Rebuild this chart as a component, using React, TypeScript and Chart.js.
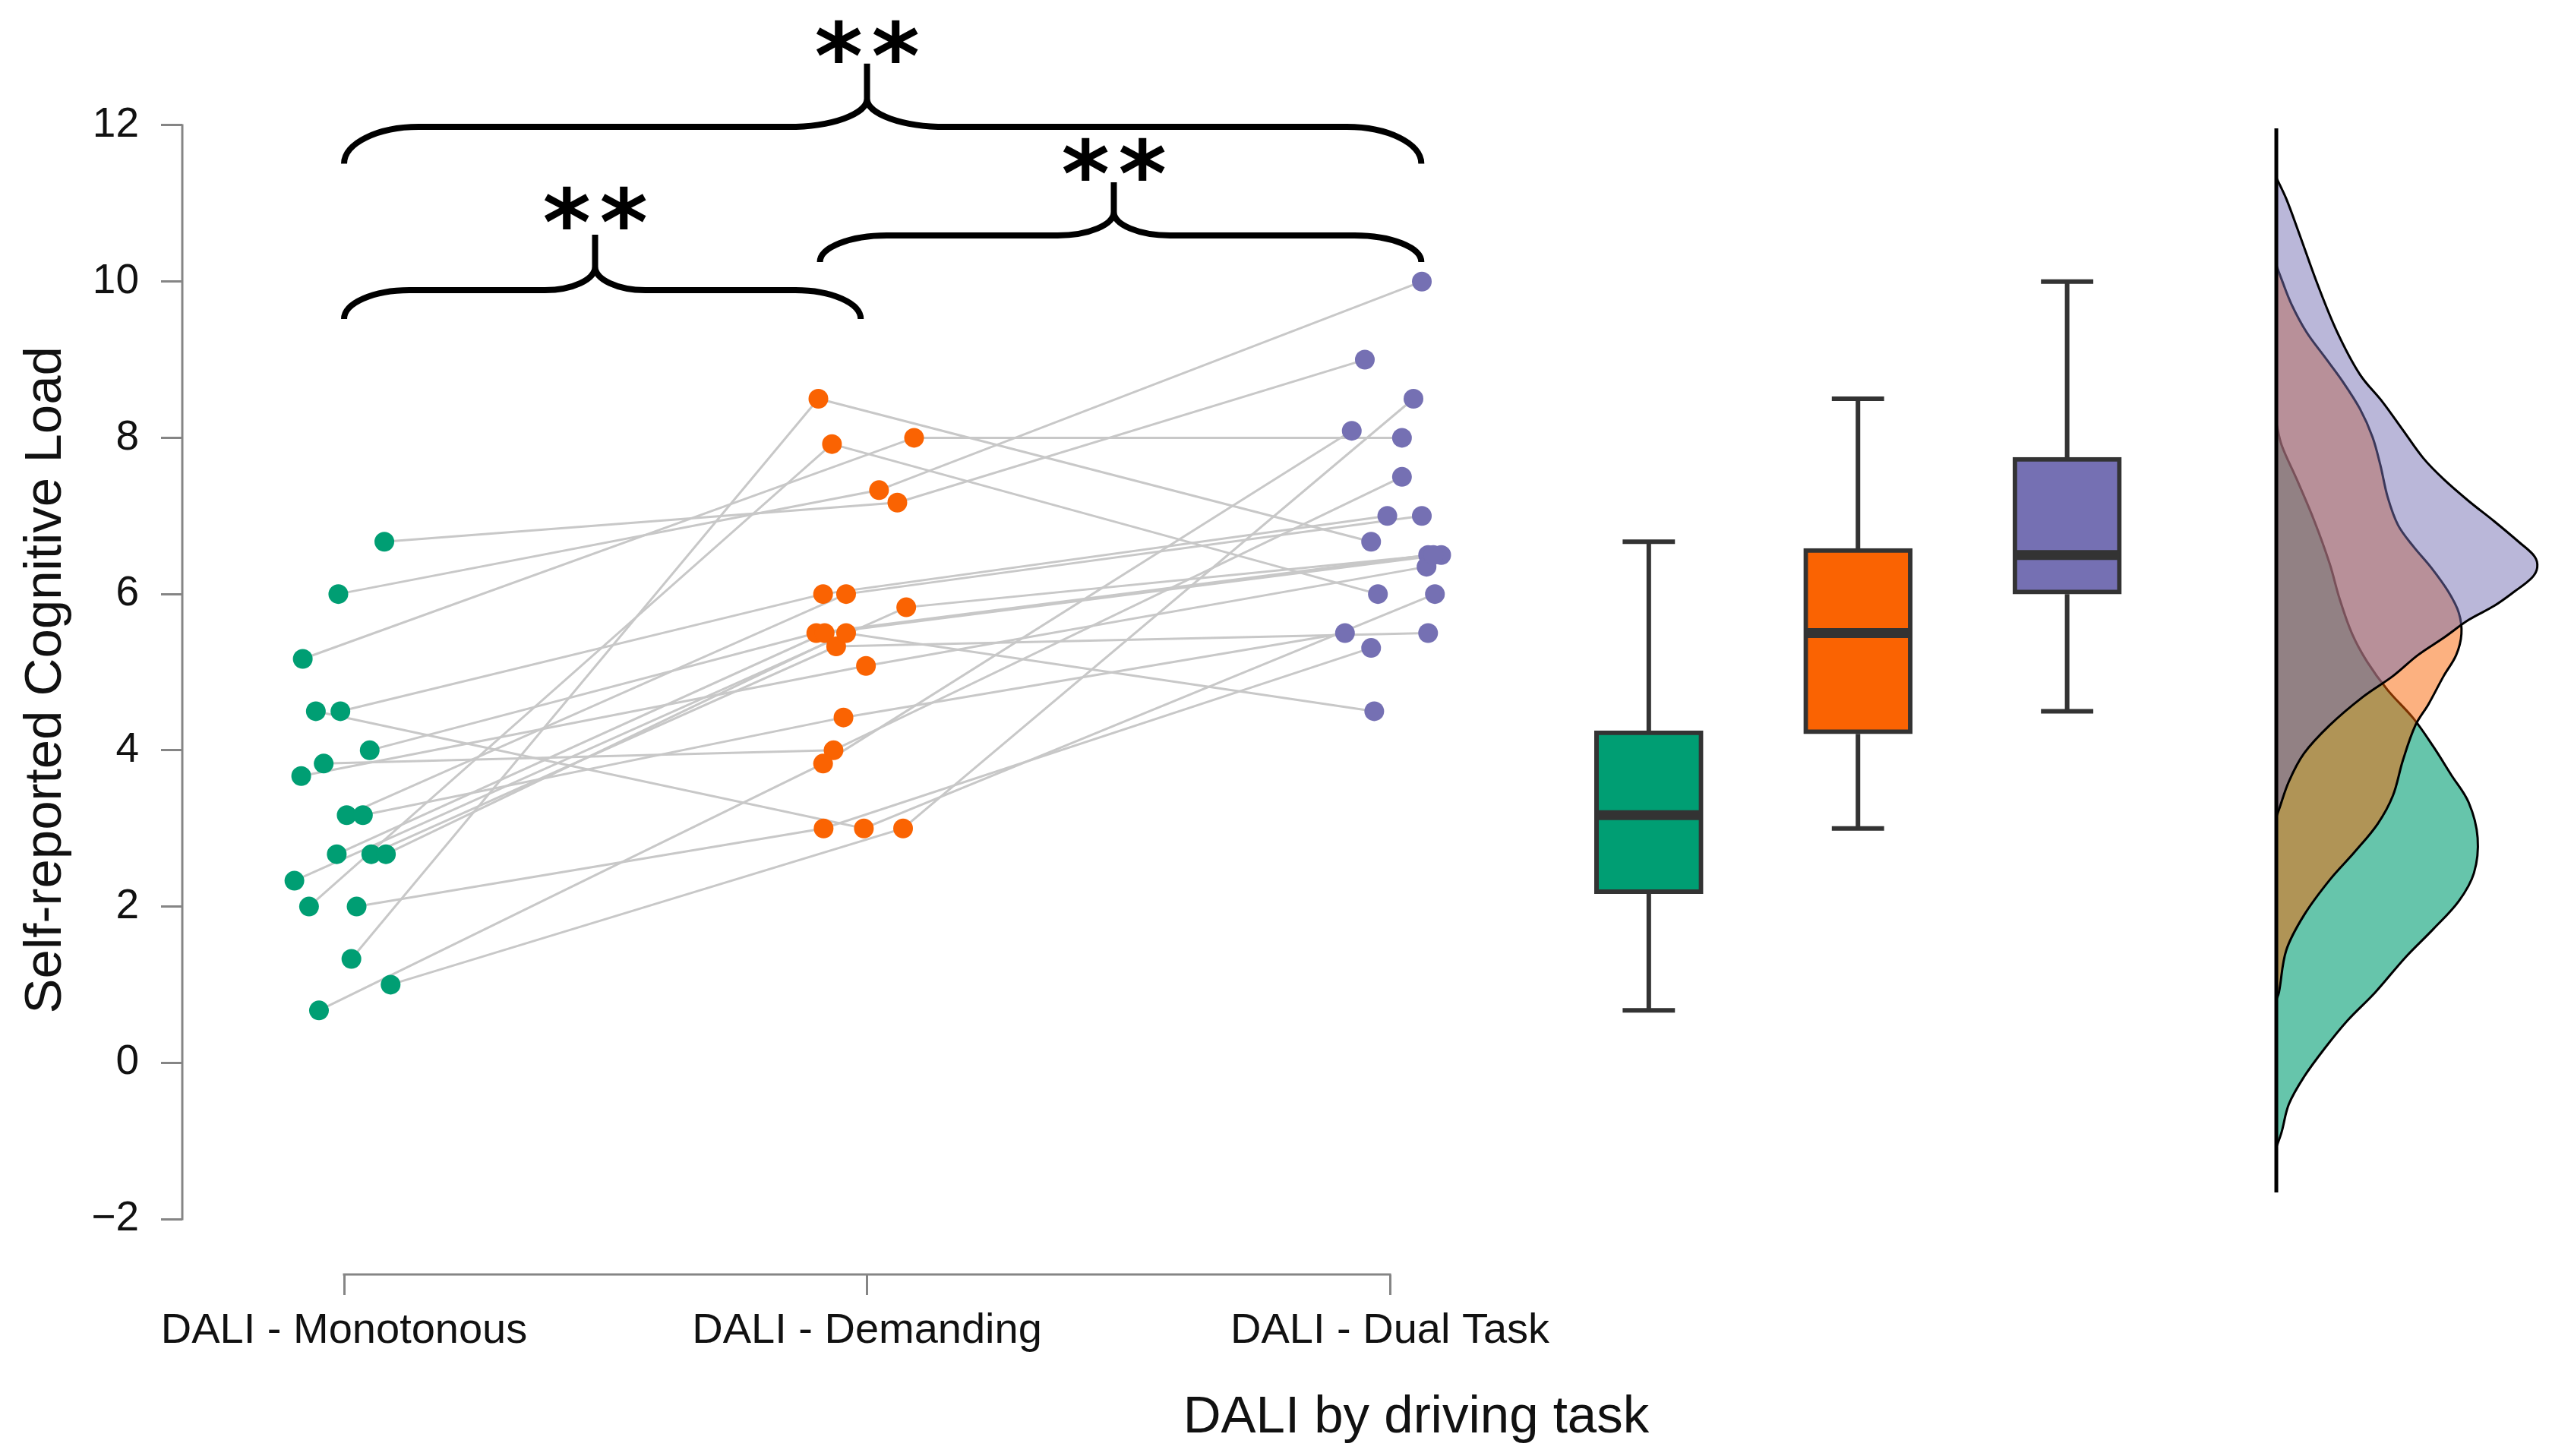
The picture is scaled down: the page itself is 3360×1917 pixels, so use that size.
import React, { useEffect, useRef } from 'react';
import { Chart, registerables } from 'chart.js';

Chart.register(...registerables);

// ---------------- data ----------------
const CATEGORIES = ['DALI - Monotonous', 'DALI - Demanding', 'DALI - Dual Task'];
const Y_TICKS = [-2, 0, 2, 4, 6, 8, 10, 12];

// one entry per participant (same order in the three arrays)
const MONOTONOUS = [6.67, 6.0, 5.17, 4.5, 4.5, 4.0, 3.83, 3.67, 3.17, 3.17, 2.67, 2.67, 2.67, 2.33, 2.0, 2.0, 1.33, 1.0, 0.67];
const DEMANDING = [7.17, 7.33, 8.0, 3.0, 6.0, 5.5, 4.0, 5.08, 6.0, 4.42, 5.5, 5.33, 5.5, 5.83, 7.92, 3.0, 8.5, 3.0, 3.83];
const DUAL_TASK = [9.0, 10.0, 8.0, 6.0, 7.0, 6.5, 7.5, 6.35, 7.0, 5.5, 6.5, 5.5, 4.5, 6.5, 6.0, 5.31, 6.67, 8.5, 8.09];

// horizontal jitter of each point (category units)
const JITTER_MONOTONOUS = [0.077, -0.011, -0.079, -0.054, -0.007, 0.049, -0.039, -0.082, 0.005, 0.036, -0.014, 0.052, 0.08, -0.095, -0.067, 0.024, 0.014, 0.089, -0.048];
const JITTER_DEMANDING = [0.058, 0.023, 0.09, -0.006, -0.084, -0.097, -0.064, -0.002, -0.04, -0.045, -0.081, -0.059, -0.04, 0.075, -0.067, -0.083, -0.093, 0.069, -0.084];
const JITTER_DUAL_TASK = [-0.048, 0.061, 0.023, 0.086, -0.005, 0.073, 0.023, 0.07, 0.061, -0.086, 0.098, 0.073, -0.03, 0.083, -0.023, -0.036, -0.036, 0.045, -0.073];

// density curves: level (y) and width (x units)
const DENSITY_LEVELS_MONOTONOUS = [8.19, 7.91, 7.47, 6.93, 6.39, 5.94, 5.49, 5.13, 4.77, 4.41, 4.05, 3.69, 3.33, 2.88, 2.43, 2.07, 1.71, 1.35, 0.9, 0.54, 0.18, -0.18, -0.53, -0.89, -1.08];
const DENSITY_WIDTHS_MONOTONOUS = [0, 0.01, 0.039, 0.073, 0.102, 0.121, 0.145, 0.174, 0.213, 0.262, 0.3, 0.334, 0.368, 0.385, 0.378, 0.349, 0.3, 0.247, 0.189, 0.136, 0.092, 0.053, 0.024, 0.01, 0];
const DENSITY_LEVELS_DEMANDING = [10.21, 10.03, 9.71, 9.35, 9.04, 8.73, 8.37, 8.01, 7.65, 7.24, 6.88, 6.61, 6.34, 6.03, 5.76, 5.49, 5.22, 4.95, 4.59, 4.32, 3.87, 3.42, 3.06, 2.7, 2.34, 1.89, 1.44, 0.9, 0.81];
const DENSITY_WIDTHS_DEMANDING = [0, 0.01, 0.029, 0.058, 0.092, 0.126, 0.16, 0.184, 0.199, 0.213, 0.233, 0.262, 0.296, 0.329, 0.349, 0.354, 0.344, 0.32, 0.291, 0.266, 0.242, 0.223, 0.194, 0.15, 0.102, 0.053, 0.019, 0.005, 0];
const DENSITY_LEVELS_DUAL_TASK = [11.33, 11.06, 10.61, 9.98, 9.36, 8.81, 8.46, 8.1, 7.74, 7.47, 7.19, 6.93, 6.66, 6.48, 6.34, 6.21, 6.03, 5.85, 5.67, 5.44, 5.22, 4.95, 4.68, 4.32, 3.96, 3.6, 3.24, 3.15];
const DENSITY_WIDTHS_DUAL_TASK = [0, 0.019, 0.044, 0.078, 0.116, 0.16, 0.203, 0.242, 0.281, 0.32, 0.368, 0.417, 0.465, 0.494, 0.499, 0.489, 0.455, 0.417, 0.368, 0.32, 0.271, 0.223, 0.165, 0.102, 0.053, 0.024, 0.005, 0];

const SIGNIFICANCE = ['**', '**', '**'];

// ---------------- layout / style ----------------
const W = 3360;
const H = 1917;
const COLORS = ['#009E73', '#FA6302', '#7570B3'];
const FILLS = ['rgba(0,158,115,0.6)', 'rgba(250,99,2,0.5)', 'rgba(117,112,179,0.5)'];
const BOX_LINE = '#333333';
const AXIS_COLOR = '#858585';
const TEXT_COLOR = '#111111';
const FONT = "'Liberation Sans', Arial, Helvetica, sans-serif";
const BOX_X = [2.495, 2.895, 3.295];
const BOX_HALF = 0.1;
const CAP_HALF = 0.05;
const DENSITY_BASE = 3.695;
const DENSITY_SPAN = [11.96, -1.66];
const X_RANGE = [-0.3094, 4.2222];
const Y_RANGE = [-2.7097, 13.604];
// significance braces: ends, bar, tip (data units) and curl sizes (px)
const BRACES = [
  { from: 0, to: 0.988, tip: 0.48, end: 9.52, bar: 9.89, top: 10.6, curl: 86, mid: 66, midH: 31, gap: 7 },
  { from: 0.91, to: 2.06, tip: 1.472, end: 10.25, bar: 10.59, top: 11.27, curl: 88, mid: 74, midH: 31, gap: 2 },
  { from: 0, to: 2.06, tip: 1.0, end: 11.51, bar: 11.98, top: 12.79, curl: 98, mid: 104, midH: 37, gap: 1 },
];

function quantile(sorted: number[], p: number) {
  const h = (sorted.length - 1) * p;
  const lo = Math.floor(h);
  const hi = Math.ceil(h);
  return sorted[lo] + (h - lo) * (sorted[hi] - sorted[lo]);
}

function boxStats(values: number[]) {
  const s = [...values].sort((a, b) => a - b);
  const q1 = quantile(s, 0.25);
  const med = quantile(s, 0.5);
  const q3 = quantile(s, 0.75);
  const iqr = q3 - q1;
  const lo = s.find((v) => v >= q1 - 1.5 * iqr) as number;
  const hi = [...s].reverse().find((v) => v <= q3 + 1.5 * iqr) as number;
  return { q1, med, q3, lo, hi };
}

const annotationPlugin = {
  id: 'raincloudAnnotations',
  afterDraw(chart: any) {
    const { ctx, chartArea } = chart;
    const x = chart.scales.x;
    const y = chart.scales.y;
    ctx.save();

    // partial axis lines (R base-graphics style)
    ctx.strokeStyle = AXIS_COLOR;
    ctx.lineWidth = 3;
    ctx.lineCap = 'butt';
    ctx.beginPath();
    ctx.moveTo(chartArea.left, y.getPixelForValue(Y_TICKS[0]) + 1.5);
    ctx.lineTo(chartArea.left, y.getPixelForValue(Y_TICKS[Y_TICKS.length - 1]) - 1.5);
    ctx.moveTo(x.getPixelForValue(0) - 1.5, chartArea.bottom);
    ctx.lineTo(x.getPixelForValue(CATEGORIES.length - 1) + 1.5, chartArea.bottom);
    ctx.stroke();

    // braces
    ctx.strokeStyle = '#000000';
    ctx.lineWidth = 8;
    const k = 0.55;
    BRACES.forEach((b) => {
      const xl = x.getPixelForValue(b.from);
      const xr = x.getPixelForValue(b.to);
      const xm = x.getPixelForValue(b.tip);
      const ye = y.getPixelForValue(b.end);
      const yb = y.getPixelForValue(b.bar);
      const yt = y.getPixelForValue(b.top);
      const h = ye - yb;
      ctx.beginPath();
      ctx.moveTo(xl, ye);
      ctx.bezierCurveTo(xl, ye - k * h, xl + b.curl * (1 - k), yb, xl + b.curl, yb);
      ctx.lineTo(xm - b.mid, yb);
      ctx.bezierCurveTo(xm - b.mid * (1 - k), yb, xm, yb - b.midH * (1 - k), xm, yb - b.midH);
      ctx.lineTo(xm, yt);
      ctx.moveTo(xm, yb - b.midH);
      ctx.bezierCurveTo(xm, yb - b.midH * (1 - k), xm + b.mid * (1 - k), yb, xm + b.mid, yb);
      ctx.lineTo(xr - b.curl, yb);
      ctx.bezierCurveTo(xr - b.curl * (1 - k), yb, xr, ye - k * h, xr, ye);
      ctx.stroke();
    });

    // significance stars
    ctx.fillStyle = '#000000';
    ctx.textAlign = 'left';
    ctx.textBaseline = 'alphabetic';
    ctx.font = "bold 100px 'DejaVu Sans'";
    const m0 = ctx.measureText('*');
    const h0 = m0.actualBoundingBoxAscent + m0.actualBoundingBoxDescent;
    const size = (100 * 57) / h0;
    ctx.font = `bold ${size}px 'DejaVu Sans'`;
    const m = ctx.measureText('*');
    BRACES.forEach((b, i) => {
      const label = SIGNIFICANCE[i];
      const xm = x.getPixelForValue(b.tip);
      const yt = y.getPixelForValue(b.top);
      for (let j = 0; j < label.length; j++) {
        const cx = xm + (j - (label.length - 1) / 2) * 75;
        const x0 = cx - (m.actualBoundingBoxRight - m.actualBoundingBoxLeft) / 2;
        const y0 = yt - b.gap - m.actualBoundingBoxDescent;
        ctx.fillText(label[j], x0, y0);
      }
    });

    // axis titles
    ctx.fillStyle = TEXT_COLOR;
    ctx.font = `69px ${FONT}`;
    ctx.textAlign = 'center';
    ctx.textBaseline = 'alphabetic';
    ctx.fillText('DALI by driving task', x.getPixelForValue(2.05), 1886);
    ctx.translate(80, y.getPixelForValue(4.9));
    ctx.rotate(-Math.PI / 2);
    ctx.fillText('Self-reported Cognitive Load', 0, 0);
    ctx.restore();
  },
};

export default function App() {
  const canvasRef = useRef<HTMLCanvasElement | null>(null);

  useEffect(() => {
    document.body.style.margin = '0';
    const canvas = canvasRef.current;
    if (!canvas) return;

    Chart.defaults.font.family = FONT;

    const groups = [
      { values: MONOTONOUS, jitter: JITTER_MONOTONOUS, levels: DENSITY_LEVELS_MONOTONOUS, widths: DENSITY_WIDTHS_MONOTONOUS },
      { values: DEMANDING, jitter: JITTER_DEMANDING, levels: DENSITY_LEVELS_DEMANDING, widths: DENSITY_WIDTHS_DEMANDING },
      { values: DUAL_TASK, jitter: JITTER_DUAL_TASK, levels: DENSITY_LEVELS_DUAL_TASK, widths: DENSITY_WIDTHS_DUAL_TASK },
    ];

    const datasets: any[] = [];

    // participant connecting lines
    for (let i = 0; i < MONOTONOUS.length; i++) {
      datasets.push({
        type: 'line',
        data: groups.map((g, k) => ({ x: k + g.jitter[i], y: g.values[i] })),
        borderColor: '#C8C8C8',
        borderWidth: 3,
        pointRadius: 0,
        fill: false,
        tension: 0,
        order: 100,
      });
    }

    // points
    groups.forEach((g, k) => {
      datasets.push({
        type: 'scatter',
        data: g.values.map((v, i) => ({ x: k + g.jitter[i], y: v })),
        backgroundColor: COLORS[k],
        borderWidth: 0,
        pointRadius: 13,
        pointHoverRadius: 13,
        order: 50,
      });
    });

    // box plots
    groups.forEach((g, k) => {
      const s = boxStats(g.values);
      const cx = BOX_X[k];
      const lineBase = { type: 'line', borderColor: BOX_LINE, pointRadius: 0, fill: false, borderCapStyle: 'butt', tension: 0 };
      datasets.push({
        type: 'bar',
        data: [{ x: cx, y: [s.q1, s.q3] }],
        backgroundColor: COLORS[k],
        borderColor: BOX_LINE,
        borderWidth: 6,
        borderSkipped: false,
        barThickness: 143,
        grouped: false,
        order: 30,
      });
      datasets.push({ ...lineBase, data: [{ x: cx - BOX_HALF, y: s.med }, { x: cx + BOX_HALF, y: s.med }], borderWidth: 13, order: 29 });
      datasets.push({ ...lineBase, data: [{ x: cx, y: s.q3 }, { x: cx, y: s.hi }], borderWidth: 6, order: 31 });
      datasets.push({ ...lineBase, data: [{ x: cx, y: s.q1 }, { x: cx, y: s.lo }], borderWidth: 6, order: 31 });
      datasets.push({ ...lineBase, data: [{ x: cx - CAP_HALF, y: s.hi }, { x: cx + CAP_HALF, y: s.hi }], borderWidth: 6, order: 31 });
      datasets.push({ ...lineBase, data: [{ x: cx - CAP_HALF, y: s.lo }, { x: cx + CAP_HALF, y: s.lo }], borderWidth: 6, order: 31 });
    });

    // density clouds (first group at the bottom)
    groups.forEach((g, k) => {
      datasets.push({
        type: 'line',
        data: g.levels.map((v, i) => ({ x: DENSITY_BASE + g.widths[i], y: v })),
        borderColor: '#000000',
        borderWidth: 3,
        backgroundColor: FILLS[k],
        fill: 'shape',
        pointRadius: 0,
        tension: 0.35,
        order: 12 - k,
      });
    });

    // density baseline
    datasets.push({
      type: 'line',
      data: [{ x: DENSITY_BASE, y: DENSITY_SPAN[0] }, { x: DENSITY_BASE, y: DENSITY_SPAN[1] }],
      borderColor: '#000000',
      borderWidth: 5,
      pointRadius: 0,
      fill: false,
      order: 5,
    });

    const chart = new Chart(canvas, {
      type: 'scatter',
      data: { datasets },
      options: {
        responsive: false,
        animation: false,
        events: [],
        layout: { padding: 0, autoPadding: false },
        plugins: {
          legend: { display: false },
          tooltip: { enabled: false },
          title: { display: false },
        },
        scales: {
          x: {
            type: 'linear',
            min: X_RANGE[0],
            max: X_RANGE[1],
            offset: false,
            afterBuildTicks: (s: any) => {
              s.ticks = CATEGORIES.map((_, i) => ({ value: i }));
            },
            afterFit: (s: any) => {
              s.height = H - 1678;
              s.paddingLeft = 0;
              s.paddingRight = 0;
            },
            ticks: {
              callback: (v: any) => CATEGORIES[Math.round(Number(v))] ?? '',
              font: { size: 56, family: FONT },
              color: TEXT_COLOR,
              padding: 14,
              autoSkip: false,
              maxRotation: 0,
              minRotation: 0,
            },
            grid: {
              display: true,
              drawOnChartArea: false,
              drawTicks: true,
              tickLength: 27,
              color: AXIS_COLOR,
              lineWidth: 3,
              offset: false,
            },
            border: { display: false },
          },
          y: {
            type: 'linear',
            min: Y_RANGE[0],
            max: Y_RANGE[1],
            beginAtZero: false,
            afterBuildTicks: (s: any) => {
              s.ticks = Y_TICKS.map((v) => ({ value: v }));
            },
            afterFit: (s: any) => {
              s.width = 240;
              s.paddingTop = 0;
              s.paddingBottom = 0;
            },
            ticks: {
              callback: (v: any) => (Number(v) < 0 ? '\u2212' + Math.abs(Number(v)) : String(v)),
              font: { size: 55, family: FONT },
              color: TEXT_COLOR,
              padding: 29,
            },
            grid: {
              display: true,
              drawOnChartArea: false,
              drawTicks: true,
              tickLength: 28,
              color: AXIS_COLOR,
              lineWidth: 3,
            },
            border: { display: false },
          },
        },
      } as any,
      plugins: [annotationPlugin],
    });

    return () => {
      chart.destroy();
    };
  }, []);

  return (
    <div style={{ width: W, height: H, background: '#ffffff' }}>
      <canvas ref={canvasRef} width={W} height={H} style={{ display: 'block', width: W, height: H }} />
    </div>
  );
}
